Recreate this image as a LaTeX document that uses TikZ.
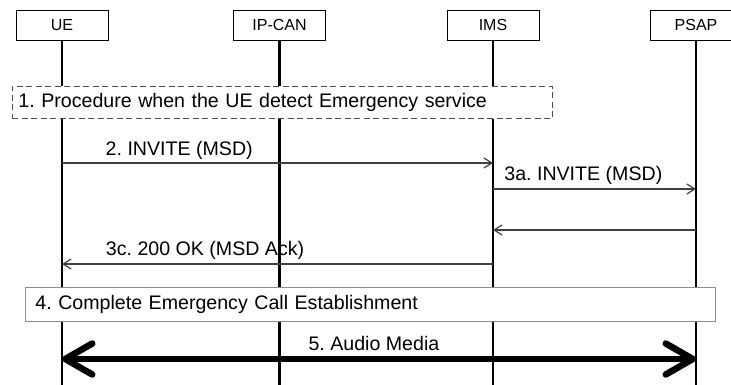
\documentclass[tikz,border=0pt]{standalone}
\usepackage{fontspec}
\setmainfont{Liberation Sans}
\usetikzlibrary{arrows.meta}
\newcommand\msgfont{\fontsize{19.6}{22}\selectfont}
\frenchspacing
\begin{document}
\begin{tikzpicture}[x=1pt,y=-1pt,
		ent/.style={draw,line width=0.9pt,minimum width=92pt,minimum height=30pt,inner sep=0pt,font=\fontsize{16}{18}\selectfont},
		life/.style={line width=2.6pt},
		msg/.style={line width=1.2pt,black!75,-{Straight Barb[length=8pt,width=10pt]}},
		lbl/.style={anchor=base,inner sep=0pt,text=black,font=\msgfont},
		stepbox/.style={fill=white,anchor=west,inner ysep=0pt,align=left,line width=0.9pt,font=\msgfont},
		]
		\useasboundingbox (0,0) rectangle (731,385);
	%	\draw[gray!20] (0,0) grid[step=50] (731,385);
		\node[ent] (ue) at (62,25.5) {UE};
		\node[ent] (ipcan) at (279.5,25) {IP-CAN};
		\node[ent] (ims) at (493,25) {IMS};
		\node[ent] (psap) at (696,25) {PSAP};
		\foreach \n in {ue,ipcan,ims,psap}
			\draw[life] (\n.south) -- (\n |- 0,385);
		% 1 and 4
		\node[stepbox,draw=black!70,dash pattern=on 6pt off 3.5pt,minimum width=540pt,minimum height=32.5pt,text width=528pt,inner xsep=6pt] (proc) at (12,102.3) {1. Procedure when the UE detect Emergency service};
		\node[stepbox,draw=black!45,minimum width=690pt,minimum height=34pt,text width=670pt,inner xsep=10pt] (compl) at (25,304) {4. Complete Emergency Call Establishment};
		% messages
		\draw[msg] (ue |- 0,163) -- node[lbl,pos=.272,yshift=7pt] (m2) {2. INVITE (MSD)} (ims |- 0,163);
		\draw[msg] (ims |- 0,189) -- node[lbl,pos=.445,yshift=9pt] (m3a) {3a. INVITE (MSD)} (psap |- 0,189);
		\draw[msg] (psap |- 0,230) -- (ims |- 0,230);
		\draw[msg] (ims |- 0,264) -- node[lbl,pos=.668,yshift=9pt] (m3c) {3c. 200 OK (MSD Ack)} (ue |- 0,264);
		\draw[line width=6.5pt,{Straight Barb[length=27pt,width=31pt,round]}-{Straight Barb[length=27pt,width=31pt,round]}] (ue |- 0,359) -- node[lbl,pos=.492,yshift=9pt] (m5) {5. Audio Media} (psap |- 0,359);
	\end{tikzpicture}
\end{document}
